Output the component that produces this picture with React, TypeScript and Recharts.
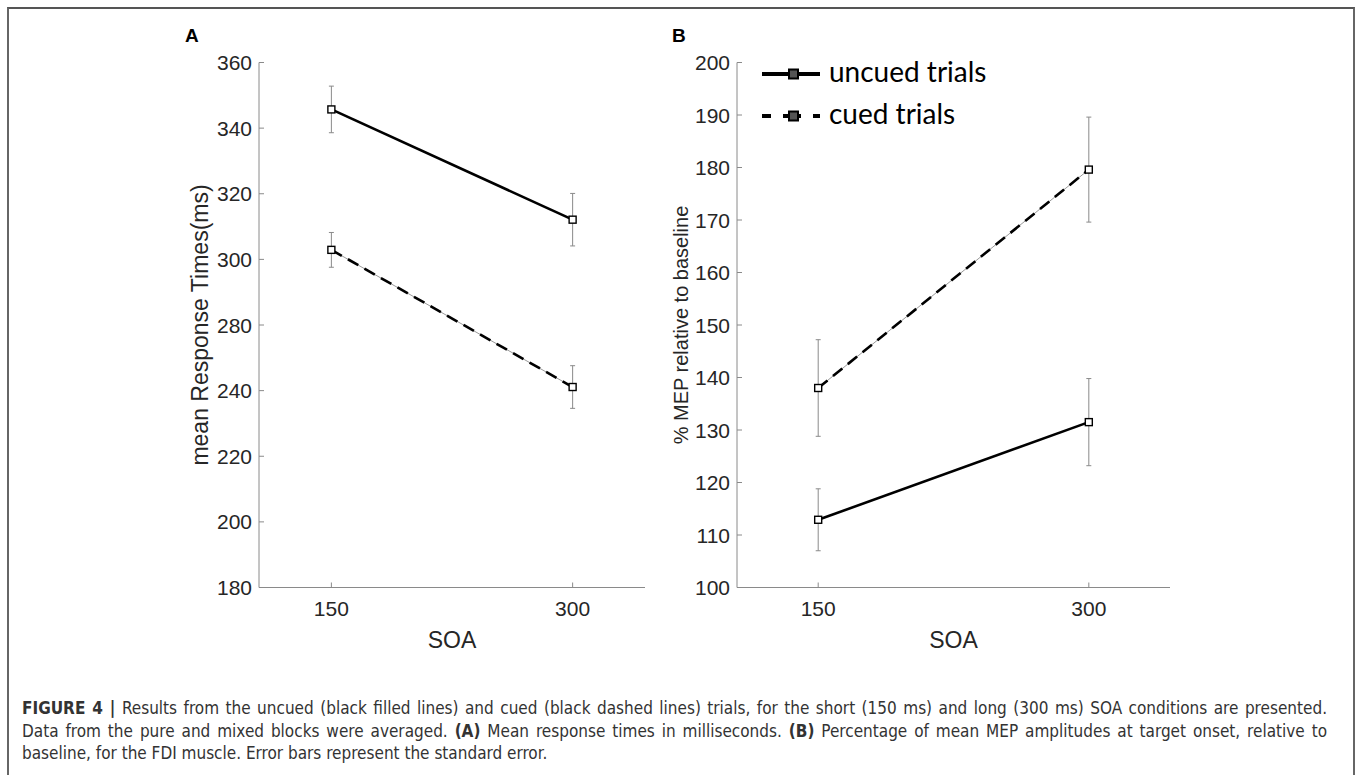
import { LineChart, Line, XAxis, YAxis, ErrorBar, Label } from "recharts";

// SOA conditions, plotted at category positions 1 and 2
const soaPositions = [1, 2];
const soaLabels = ["150", "300"];

// Panel A: mean response times (ms)
const rtUncued = [345.7, 312.1];
const rtUncuedErr = [7.1, 8.0];
const rtCued = [302.9, 261.1];
const rtCuedErr = [5.3, 6.5];
const rtTicks = [200, 220, 240, 260, 280, 300, 320, 340, 360];
// the published figure skips "260" in its tick labels
const rtTickLabels = ["180", "200", "220", "240", "280", "300", "320", "340", "360"];

// Panel B: % MEP relative to baseline
const mepUncued = [112.9, 131.5];
const mepUncuedErr = [5.9, 8.3];
const mepCued = [138.0, 179.6];
const mepCuedErr = [9.2, 10.0];
const mepTicks = [100, 110, 120, 130, 140, 150, 160, 170, 180, 190, 200];

const legendItems = [
  { name: "uncued trials", dash: undefined as string | undefined },
  { name: "cued trials", dash: "9 12 18 12 9" },
];

const AXIS = "#8a8a8a";
const TEXT = "#262626";
const FONT = '"Liberation Sans", Arial, Helvetica, sans-serif';
const PLOT_TOP = 62.5;
const PLOT_H = 525;
const CHART_H = 660;

function buildRows(uncued: number[], uncuedErr: number[], cued: number[], cuedErr: number[]) {
  return soaPositions.map((soa, i) => ({
    soa,
    uncued: uncued[i],
    uncuedErr: uncuedErr[i],
    cued: cued[i],
    cuedErr: cuedErr[i],
  }));
}

const rtRows = buildRows(rtUncued, rtUncuedErr, rtCued, rtCuedErr);
const mepRows = buildRows(mepUncued, mepUncuedErr, mepCued, mepCuedErr);

const SquareDot = (props: any) => {
  const { cx, cy, index } = props;
  if (cx == null || cy == null) return null;
  return (
    <rect key={index} x={cx - 3.5} y={cy - 3.5} width={7} height={7} fill="#fff" stroke="#000" strokeWidth={1.4} />
  );
};

const makeYTick = (ticks: number[], labels: string[]) => (props: any) => {
  const { x, y, payload } = props;
  const i = ticks.indexOf(payload.value);
  const label = i >= 0 ? labels[i] : String(payload.value);
  return (
    <g>
      <line x1={x + 7} x2={x + 12} y1={y} y2={y} stroke={AXIS} strokeWidth={1} />
      <text x={x} y={y} dy="0.36em" textAnchor="end" fontSize={21} fill={TEXT} fontFamily={FONT}>
        {label}
      </text>
    </g>
  );
};

const XTick = (props: any) => {
  const { x, y, payload } = props;
  const i = soaPositions.indexOf(payload.value);
  return (
    <g>
      <line x1={x} x2={x} y1={y - 14} y2={y - 19} stroke={AXIS} strokeWidth={1} />
      <text x={x} y={y} dy="0.71em" textAnchor="middle" fontSize={21} fill={TEXT} fontFamily={FONT}>
        {soaLabels[i]}
      </text>
    </g>
  );
};

type PanelProps = {
  left: number;
  width: number;
  yAxisWidth: number;
  rows: any[];
  domain: [number, number];
  ticks: number[];
  tickLabels: string[];
  yLabel: string;
  yLabelSize: number;
  yLabelX: number;
};

function Panel({ left, width, yAxisWidth, rows, domain, ticks, tickLabels, yLabel, yLabelSize, yLabelX }: PanelProps) {
  const cy = PLOT_TOP + PLOT_H / 2;
  return (
    <div style={{ position: "absolute", left, top: 0 }}>
      <LineChart width={width} height={CHART_H} data={rows} margin={{ top: PLOT_TOP, right: 10, bottom: 0, left: 0 }}>
        <XAxis
          dataKey="soa"
          type="number"
          domain={[0.7, 2.3]}
          ticks={soaPositions}
          allowDataOverflow
          height={CHART_H - PLOT_TOP - PLOT_H}
          axisLine={{ stroke: AXIS, strokeWidth: 1 }}
          tickLine={false}
          tickSize={0}
          tickMargin={14}
          tick={XTick}
          label={{ value: "SOA", position: "insideBottom", offset: 12, fontSize: 23, fill: TEXT, fontFamily: FONT }}
        />
        <YAxis
          type="number"
          domain={domain}
          ticks={ticks}
          allowDataOverflow
          width={yAxisWidth}
          axisLine={{ stroke: AXIS, strokeWidth: 1 }}
          tickLine={false}
          tickSize={0}
          tickMargin={7}
          tick={makeYTick(ticks, tickLabels)}
        >
          <Label
            content={() => (
              <text
                x={yLabelX}
                y={cy}
                transform={`rotate(-90, ${yLabelX}, ${cy})`}
                textAnchor="middle"
                fontSize={yLabelSize}
                fill={TEXT}
                fontFamily={FONT}
              >
                {yLabel}
              </text>
            )}
          />
        </YAxis>
        <Line
          dataKey="cued"
          stroke="#999"
          strokeWidth={1}
          dot={false}
          activeDot={false}
          legendType="none"
          isAnimationActive={false}
        />
        <Line
          dataKey="cued"
          stroke="#000"
          strokeWidth={2.6}
          strokeDasharray="12 7"
          dot={SquareDot}
          activeDot={false}
          isAnimationActive={false}
        >
          <ErrorBar dataKey="cuedErr" width={2.5} stroke={AXIS} strokeWidth={1} direction="y" isAnimationActive={false} />
        </Line>
        <Line
          dataKey="uncued"
          stroke="#000"
          strokeWidth={2.6}
          dot={SquareDot}
          activeDot={false}
          isAnimationActive={false}
        >
          <ErrorBar dataKey="uncuedErr" width={2.5} stroke={AXIS} strokeWidth={1} direction="y" isAnimationActive={false} />
        </Line>
      </LineChart>
    </div>
  );
}

function MepLegend() {
  return (
    <svg width={1357} height={200} style={{ position: "absolute", left: 0, top: 0, pointerEvents: "none" }}>
      {legendItems.map((item, i) => {
        const y = 74 + i * 42;
        return (
          <g key={item.name}>
            <line x1={762} x2={820} y1={y} y2={y} stroke="#000" strokeWidth={4} strokeDasharray={item.dash} />
            <rect x={789} y={y - 4.5} width={9} height={9} fill="#555" stroke="#000" strokeWidth={2} />
            <text x={829} y={y + 8} fontSize={28} fill="#000" fontFamily='Lato, "Open Sans", sans-serif'>
              {item.name}
            </text>
          </g>
        );
      })}
    </svg>
  );
}

export default function App() {
  return (
    <div style={{ position: "absolute", left: 0, top: 0, width: 1357, height: 775, background: "#fff", overflow: "hidden" }}>
      <div
        style={{
          position: "absolute",
          left: 7,
          top: 7,
          width: 1348,
          height: 780,
          boxSizing: "border-box",
          borderTop: "2px solid #555",
          borderLeft: "2px solid #666",
          borderRight: "2px solid #666",
        }}
      />
      <div style={{ position: "absolute", left: 185, top: 25, fontFamily: FONT, fontWeight: "bold", fontSize: 19, color: "#000" }}>A</div>
      <div style={{ position: "absolute", left: 672, top: 25, fontFamily: FONT, fontWeight: "bold", fontSize: 19, color: "#000" }}>B</div>
      <Panel
        left={150}
        width={505}
        yAxisWidth={109}
        rows={rtRows}
        domain={[200, 360]}
        ticks={rtTicks}
        tickLabels={rtTickLabels}
        yLabel="mean Response Times(ms)"
        yLabelSize={23}
        yLabelX={58}
      />
      <Panel
        left={640}
        width={540}
        yAxisWidth={97}
        rows={mepRows}
        domain={[100, 200]}
        ticks={mepTicks}
        tickLabels={mepTicks.map(String)}
        yLabel="% MEP relative to baseline"
        yLabelSize={20}
        yLabelX={48}
      />
      <MepLegend />
      <div
        style={{
          position: "absolute",
          left: 22,
          top: 697,
          width: 1305,
          fontFamily: '"Liberation Sans Narrow", "DejaVu Sans Condensed", sans-serif',
          fontSize: 17,
          lineHeight: "22.5px",
          color: "#333",
        }}
      >
        <div style={{ textAlign: "justify", textAlignLast: "justify" }}>
          <b>FIGURE 4 |</b> Results from the uncued (black filled lines) and cued (black dashed lines) trials, for the short (150 ms) and long (300 ms) SOA conditions are presented.
        </div>
        <div style={{ textAlign: "justify", textAlignLast: "justify" }}>
          Data from the pure and mixed blocks were averaged. <b>(A)</b> Mean response times in milliseconds. <b>(B)</b> Percentage of mean MEP amplitudes at target onset, relative to
        </div>
        <div>baseline, for the FDI muscle. Error bars represent the standard error.</div>
      </div>
    </div>
  );
}
